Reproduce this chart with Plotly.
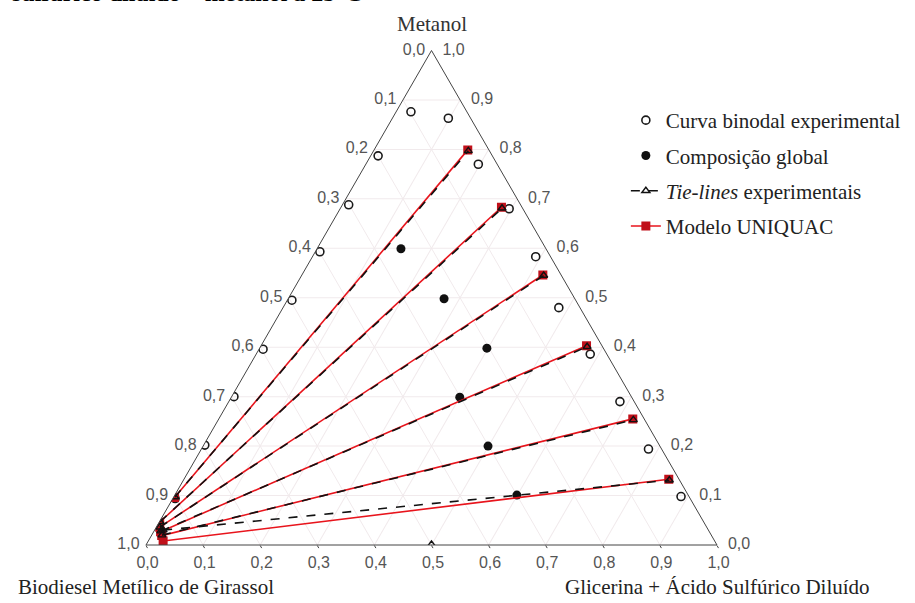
import plotly.graph_objects as go

# Mass fractions: metanol (top), biodiesel (bottom-left), glicerina + ácido (bottom-right)

# Experimental binodal curve
binodal_metanol = [0.094, 0.202, 0.300, 0.396, 0.495, 0.593, 0.688, 0.787, 0.876,
                   0.863, 0.770, 0.680, 0.583, 0.480, 0.386, 0.290, 0.194, 0.098]
binodal_glicerina = [0.004, 0.002, 0.004, 0.007, 0.008, 0.008, 0.011, 0.013, 0.026,
                     0.098, 0.197, 0.296, 0.391, 0.483, 0.585, 0.685, 0.783, 0.888]

# Global (feed) compositions
global_metanol = [0.599, 0.498, 0.398, 0.299, 0.200, 0.101]
global_glicerina = [0.147, 0.273, 0.398, 0.400, 0.499, 0.599]

# Experimental tie-lines: biodiesel-rich phase / glycerol-rich phase
tie_exp_left_metanol = [0.097, 0.047, 0.036, 0.028, 0.020, 0.030]
tie_exp_left_glicerina = [0.002, 0.001, 0.006, 0.012, 0.018, 0.015]
tie_exp_right_metanol = [0.797, 0.681, 0.545, 0.401, 0.253, 0.131]
tie_exp_right_glicerina = [0.166, 0.283, 0.424, 0.572, 0.727, 0.851]

# Isolated experimental point on the biodiesel-free edge
extra_tie_metanol = [0.0]
extra_tie_glicerina = [0.5]

# UNIQUAC model tie-lines
tie_mod_left_metanol = [0.096, 0.046, 0.036, 0.027, 0.019, 0.008]
tie_mod_left_glicerina = [0.002, 0.001, 0.006, 0.012, 0.018, 0.026]
tie_mod_right_metanol = [0.799, 0.683, 0.546, 0.403, 0.255, 0.133]
tie_mod_right_glicerina = [0.164, 0.281, 0.422, 0.570, 0.725, 0.849]

tick_vals = [i / 10 for i in range(11)]
tick_text = [f"{1 - v:.1f}".replace(".", ",") for v in tick_vals]
NBSP = "\u00a0"


def segments(m_left, g_left, m_right, g_right):
    a, c = [], []
    for ml, gl, mr, gr in zip(m_left, g_left, m_right, g_right):
        a += [ml, mr, None]
        c += [gl, gr, None]
    b = [None if x is None else 1 - x - y for x, y in zip(a, c)]
    return a, b, c


fig = go.Figure()

ba = binodal_metanol
bc = binodal_glicerina
fig.add_trace(go.Scatterternary(
    a=ba, c=bc, b=[1 - x - y for x, y in zip(ba, bc)],
    mode="markers", name="Curva binodal experimental", legendrank=1, legendgroup="g1",
    marker=dict(symbol="circle-open", size=8, color="#1a1a1a", line=dict(width=1.6)),
))

ga = global_metanol
gc = global_glicerina
fig.add_trace(go.Scatterternary(
    a=ga, c=gc, b=[1 - x - y for x, y in zip(ga, gc)],
    mode="markers", name="Composição global", legendrank=2, legendgroup="g2",
    marker=dict(symbol="circle", size=9, color="#111111"),
))

ma, mb, mc = segments(tie_mod_left_metanol, tie_mod_left_glicerina,
                      tie_mod_right_metanol, tie_mod_right_glicerina)
ea, eb, ec = segments(tie_exp_left_metanol, tie_exp_left_glicerina,
                      tie_exp_right_metanol, tie_exp_right_glicerina)

fig.add_trace(go.Scatterternary(
    a=ma, b=mb, c=mc, mode="lines+markers", name="Modelo UNIQUAC",
    line=dict(color="#e8141c", width=1.6),
    marker=dict(symbol="square", size=9, color="#c0101a"),
    legendrank=4, legendgroup="g4",
))
fig.add_trace(go.Scatterternary(
    a=ea, b=eb, c=ec, mode="lines+markers", name="<i>Tie-lines</i> experimentais",
    line=dict(color="#111111", width=1.6, dash="dash"),
    marker=dict(symbol="triangle-up-open", size=7, color="#111111", line=dict(width=1.4)),
    legendrank=3, legendgroup="g3",
))
fig.add_trace(go.Scatterternary(
    a=extra_tie_metanol, c=extra_tie_glicerina,
    b=[1 - x - y for x, y in zip(extra_tie_metanol, extra_tie_glicerina)],
    mode="markers", showlegend=False, legendgroup="g3",
    marker=dict(symbol="triangle-up-open", size=8, color="#111111", line=dict(width=1.4)),
))

axis_common = dict(
    tickmode="array", tickvals=tick_vals,
    tickfont=dict(family="Liberation Sans, Arial", size=16, color="#555555"),
    linecolor="#444444", linewidth=1,
    gridcolor="#f1eaec", gridwidth=1,
    showgrid=True, title=dict(text=""),
)

fig.update_layout(
    width=915, height=603,
    margin=dict(l=0, r=0, t=0, b=0),
    paper_bgcolor="white",
    ternary=dict(
        domain=dict(x=[146 / 915, 717 / 915], y=[58 / 603, 552.5 / 603]),
        bgcolor="white",
        aaxis=dict(**axis_common, ticktext=[t + NBSP for t in tick_text]),
        baxis=dict(**axis_common, ticktext=tick_text,
                   ticks="outside", ticklen=3, tickcolor="#444444"),
        caxis=dict(**axis_common, ticktext=[NBSP * 2 + t for t in tick_text]),
    ),
    legend=dict(
        x=0.684, y=1 - 100 / 603, xanchor="left", yanchor="top",
        font=dict(family="Liberation Serif, Times New Roman", size=21, color="#222222"),
        bgcolor="rgba(0,0,0,0)", tracegroupgap=5,
    ),
    showlegend=True,
    font=dict(family="Liberation Serif, Times New Roman"),
    annotations=[
        dict(text="Metanol", x=432 / 915, y=1 - 24 / 603, xref="paper", yref="paper",
             xanchor="center", yanchor="middle", showarrow=False,
             font=dict(size=21, color="#333333")),
        dict(text="Biodiesel Metílico de Girassol", x=146 / 915, y=1 - 587 / 603,
             xref="paper", yref="paper", xanchor="center", yanchor="middle",
             showarrow=False, font=dict(size=21, color="#222222")),
        dict(text="Glicerina + Ácido Sulfúrico Diluído", x=717 / 915, y=1 - 587 / 603,
             xref="paper", yref="paper", xanchor="center", yanchor="middle",
             showarrow=False, font=dict(size=21, color="#222222")),
        dict(text="<b>sulfúrico diluído – metanol a 25°C</b>", x=10 / 915, y=1 - 8.5 / 603,
             xref="paper", yref="paper", xanchor="left", yanchor="bottom", showarrow=False,
             font=dict(size=24, color="#000000")),
    ],
)

fig.write_html("out.html")
